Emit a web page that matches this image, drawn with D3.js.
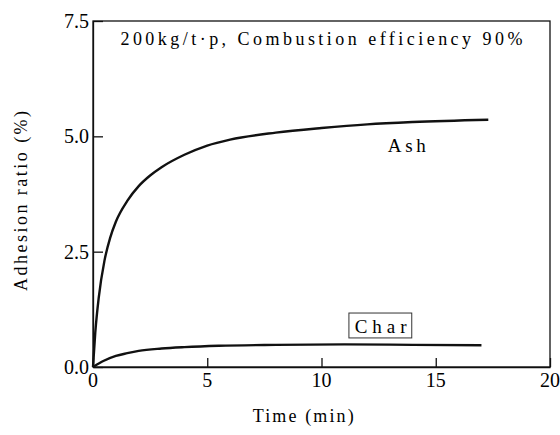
<!DOCTYPE html>
<html>
<head>
<meta charset="utf-8">
<script src="https://cdn.jsdelivr.net/npm/d3@7"></script>
<style>
  body { margin: 0; background: #fff; }
  svg text { font-family: "Liberation Serif", "Times New Roman", serif !important; }
</style>
</head>
<body>
<div id="chart"></div>
<script>
var margin = {top: 21, right: 10, bottom: 68, left: 93},
width = 560 - margin.left - margin.right,
height = 435 - margin.top - margin.bottom;

var serif = "'Liberation Serif', 'Times New Roman', serif";

// values
var ashTime = [0, 0.1, 0.25, 0.5, 0.75, 1.0, 1.5, 2.0, 2.5, 3.0, 4.0, 5.0, 6.0, 8.0, 10, 12, 14, 17.3];
var ashValue = [0, 0.75, 1.5, 2.3, 2.8, 3.15, 3.6, 3.92, 4.15, 4.33, 4.6, 4.8, 4.93, 5.08, 5.18, 5.26, 5.31, 5.36];
var charTime = [0, 0.5, 1.0, 1.5, 2, 3, 4, 5.5, 8, 11, 14, 17];
var charValue = [0, 0.14, 0.24, 0.3, 0.35, 0.4, 0.43, 0.46, 0.48, 0.49, 0.48, 0.47];

var xTicks = [0, 5, 10, 15, 20];
var yTicks = [0, 2.5, 5.0, 7.5];

var root = d3.select("#chart")
  .append("svg")
    .attr("width", width + margin.left + margin.right)
    .attr("height", height + margin.top + margin.bottom);

var svg = root.append("g")
    .attr("transform", "translate(" + margin.left + "," + margin.top + ")");

var x = d3.scaleLinear().domain([0, 20]).range([0, width]);
var y = d3.scaleLinear().domain([0, 7.5]).range([height, 0]);

// axes with inward ticks, labels drawn separately below
var xAxis = svg.append("g")
  .attr("transform", "translate(0," + height + ")")
  .call(d3.axisBottom(x).tickValues(xTicks).tickSizeInner(-9).tickSizeOuter(0).tickFormat(""));

var yAxis = svg.append("g")
  .call(d3.axisLeft(y).tickValues(yTicks).tickSizeInner(-10).tickSizeOuter(0).tickFormat(""));

[xAxis, yAxis].forEach(function(g) {
  g.selectAll("path, line").attr("stroke", "#111").attr("stroke-width", 1.3);
});

// frame
svg.append("rect")
  .attr("width", width)
  .attr("height", height)
  .attr("fill", "none")
  .attr("stroke", "#111")
  .attr("stroke-width", 1.3);

var line = d3.line()
  .x(function(d) { return x(d[0]); })
  .y(function(d) { return y(d[1]); })
  .curve(d3.curveMonotoneX);

svg.append("path")
  .datum(d3.zip(ashTime, ashValue))
  .attr("fill", "none")
  .attr("stroke", "#111")
  .attr("stroke-width", 2.4)
  .attr("d", line);

svg.append("path")
  .datum(d3.zip(charTime, charValue))
  .attr("fill", "none")
  .attr("stroke", "#111")
  .attr("stroke-width", 2.4)
  .attr("d", line);

svg.append("rect")
  .attr("x", x(11.2))
  .attr("y", y(1.17))
  .attr("width", x(2.75) - x(0))
  .attr("height", y(0) - y(0.54))
  .attr("fill", "none")
  .attr("stroke", "#333")
  .attr("stroke-width", 1);

// text
var px = function(t) { return margin.left + x(t); };
var py = function(v) { return margin.top + y(v); };

root.selectAll("text.xt").data(xTicks).join("text")
  .attr("class", "xt")
  .attr("x", function(d) { return px(d); })
  .attr("y", margin.top + height + 20)
  .attr("text-anchor", "middle")
  .attr("font-size", 20)
  .style("font-family", serif, "important")
  .text(d3.format("d"));

root.selectAll("text.yt").data(yTicks).join("text")
  .attr("class", "yt")
  .attr("x", margin.left - 4)
  .attr("y", function(d) { return py(d) + 7; })
  .attr("text-anchor", "end")
  .attr("font-size", 20)
  .style("font-family", serif, "important")
  .text(d3.format(".1f"));

function label(t, v, txt, size, len) {
  return root.append("text")
    .attr("x", px(t))
    .attr("y", py(v))
    .attr("font-size", size)
    .style("font-family", serif, "important")
    .attr("textLength", len)
    .attr("lengthAdjust", "spacing")
    .text(txt);
}

label(1.2, 6.97, "200kg/t\u00b7p, Combustion efficiency 90%", 18, 402);
label(12.9, 4.66, "Ash", 19, 38);
label(11.45, 0.74, "Char", 19, 52);

root.append("text")
  .attr("x", px(9.2))
  .attr("y", margin.top + height + 55)
  .attr("text-anchor", "middle")
  .attr("font-size", 18)
  .style("font-family", serif, "important")
  .attr("textLength", 101)
  .text("Time (min)");

root.append("text")
  .attr("transform", "translate(27," + py(3.6) + ") rotate(-90)")
  .attr("text-anchor", "middle")
  .attr("font-size", 18)
  .style("font-family", serif, "important")
  .attr("textLength", 180)
  .text("Adhesion ratio (%)");
</script>
</body>
</html>
